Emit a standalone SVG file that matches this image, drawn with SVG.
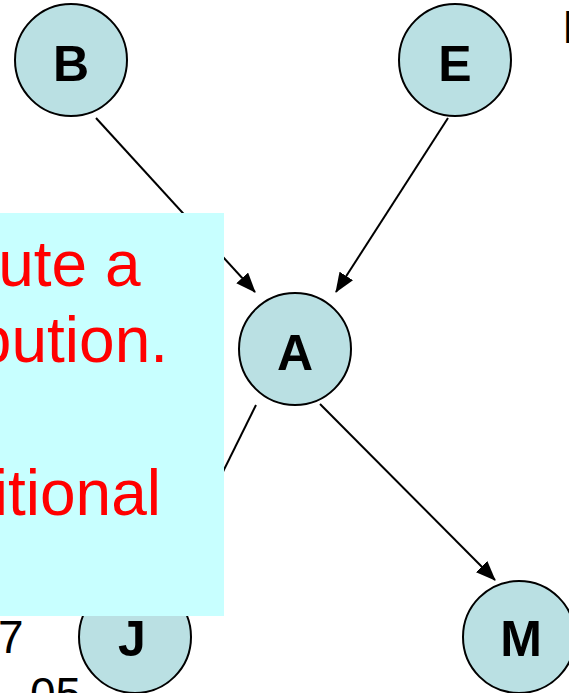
<svg xmlns="http://www.w3.org/2000/svg" width="569" height="693" viewBox="0 0 569 693">
  <style>
    .node circle { fill: #BAE0E3; stroke: #000; stroke-width: 2; }
    .node text { font-family: "Liberation Sans", Arial, sans-serif; font-weight: bold; font-size: 50px; fill: #000; text-anchor: middle; }
    .edge { stroke: #000; stroke-width: 2; fill: none; marker-end: url(#arrow); }
    .red { font-family: "Liberation Sans", Arial, sans-serif; font-size: 64px; fill: #FF0000; text-anchor: end; }
    .blk { font-family: "Liberation Sans", Arial, sans-serif; font-size: 46px; fill: #000; }
  </style>
  <defs>
    <marker id="arrow" markerUnits="userSpaceOnUse" markerWidth="20" markerHeight="16" refX="19" refY="8" orient="auto">
      <path d="M0,0 L20,8 L0,16 z" fill="#000"/>
    </marker>
  </defs>
  <rect x="0" y="0" width="569" height="693" fill="#FFFFFF"/>

  <g id="connectors">
    <line class="edge" x1="96" y1="118" x2="255" y2="292"/>
    <line class="edge" x1="448" y1="118" x2="336" y2="292"/>
    <line class="edge" x1="320" y1="404" x2="495" y2="580"/>
    <line class="edge" x1="256" y1="405" x2="167" y2="585"/>
  </g>

  <g id="node-B" class="node">
    <circle cx="71" cy="60" r="56"/>
    <text x="71" y="81">B</text>
  </g>
  <g id="node-E" class="node">
    <circle cx="455" cy="60" r="56"/>
    <text x="455" y="81">E</text>
  </g>
  <g id="node-A" class="node">
    <circle cx="295" cy="349" r="56"/>
    <text x="295" y="370">A</text>
  </g>
  <g id="node-J" class="node">
    <circle cx="135" cy="637" r="56"/>
    <text x="132" y="656">J</text>
  </g>
  <g id="node-M" class="node">
    <circle cx="519" cy="637" r="56"/>
    <text x="521" y="656">M</text>
  </g>

  <g id="callout">
    <rect x="0" y="213" width="224" height="403" fill="#C8FFFF"/>
    <text class="red" x="140.5" y="286">ute a</text>
    <text class="red" x="168" y="362">bution.</text>
    <text class="red" x="161" y="515">itional</text>
  </g>

  <text class="blk" x="-2" y="653">7</text>
  <text class="blk" x="30" y="710">05</text>
  <text class="blk" x="562" y="43">I</text>
</svg>
